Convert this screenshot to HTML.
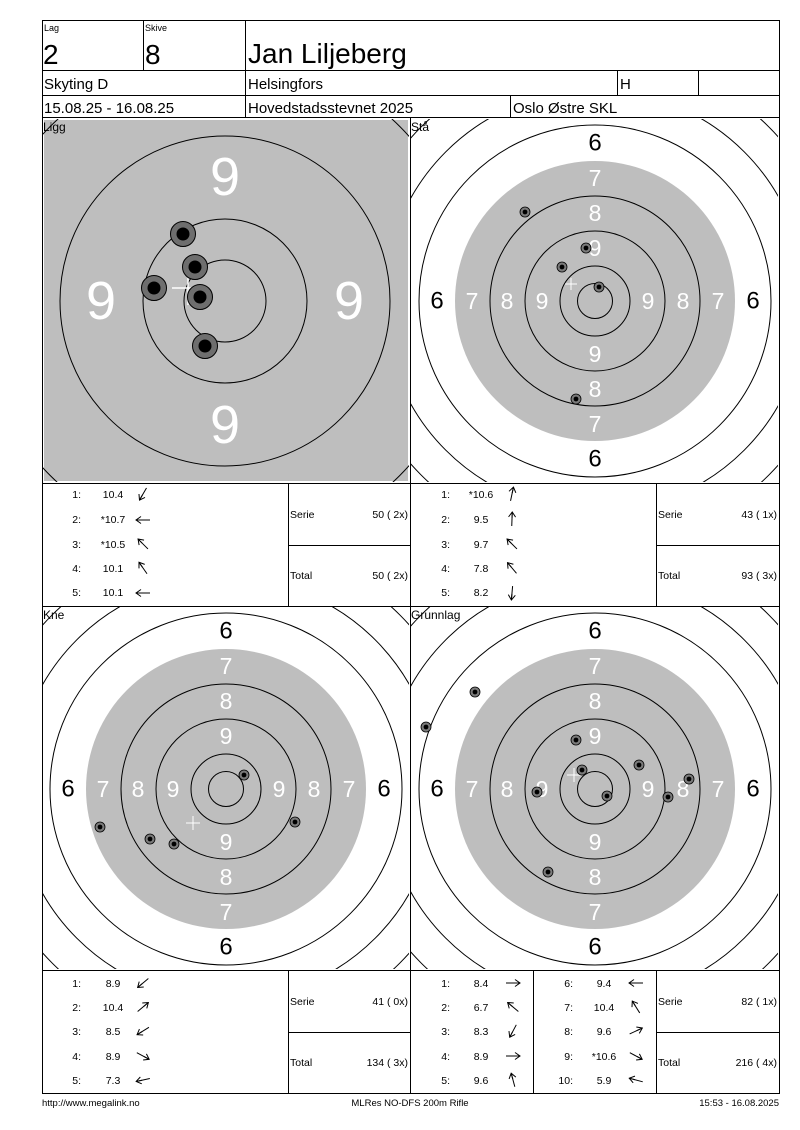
<!DOCTYPE html>
<html><head><meta charset="utf-8"><style>
html,body{margin:0;padding:0;background:#fff;width:800px;height:1130px;overflow:hidden}
svg{display:block;font-family:"Liberation Sans",Arial,sans-serif}
.s{font-size:10.5px}
</style></head><body>
<svg width="800" height="1130" viewBox="0 0 800 1130" xmlns="http://www.w3.org/2000/svg">
<defs>
<clipPath id="c1"><rect x="43" y="119" width="366" height="363"/></clipPath>
<clipPath id="c2"><rect x="411" y="119" width="367" height="363"/></clipPath>
<clipPath id="c3"><rect x="43" y="607" width="366" height="362"/></clipPath>
<clipPath id="c4"><rect x="411" y="607" width="367" height="362"/></clipPath>
<g id="ar" fill="none" stroke="#000" stroke-width="1"><line x1="-7" y1="0" x2="7" y2="0"/><polyline points="2,-3.5 7,0 2,3.5"/><line x1="1" y1="0" x2="6" y2="0"/></g>
<g id="tgt">
<circle r="140" fill="#bebebe"/>
<g fill="none" stroke="#000" stroke-width="1"><circle r="17.5"/><circle r="35"/><circle r="70"/><circle r="105"/><circle r="176"/><circle r="211"/><circle r="246"/></g>
<g font-size="23" text-anchor="middle" dominant-baseline="central" fill="#fff">
<text x="0" y="-53">9</text><text x="0" y="53">9</text><text x="-53" y="0">9</text><text x="53" y="0">9</text>
<text x="0" y="-88">8</text><text x="0" y="88">8</text><text x="-88" y="0">8</text><text x="88" y="0">8</text>
<text x="0" y="-123">7</text><text x="0" y="123">7</text><text x="-123" y="0">7</text><text x="123" y="0">7</text>
</g>
<g font-size="24" text-anchor="middle" dominant-baseline="central" fill="#000">
<text x="0" y="-158">6</text><text x="0" y="158">6</text><text x="-158" y="0">6</text><text x="158" y="0">6</text>
</g>
</g>
<g id="sh"><circle r="5" fill="#7a7a7a" stroke="#000" stroke-width="0.8"/><circle r="2.4" fill="#000"/></g>
<g id="shb"><circle r="12.5" fill="#6e6e6e" stroke="#000" stroke-width="1"/><circle r="6.5" fill="#000"/></g>
</defs>

<!-- header -->
<g fill="none" stroke="#000" stroke-width="1">
<rect x="42.5" y="20.5" width="737" height="97"/>
<line x1="42" y1="70.5" x2="780" y2="70.5"/>
<line x1="42" y1="95.5" x2="780" y2="95.5"/>
<line x1="143.5" y1="20" x2="143.5" y2="70"/>
<line x1="245.5" y1="20" x2="245.5" y2="118"/>
<line x1="617.5" y1="70" x2="617.5" y2="95"/>
<line x1="698.5" y1="70" x2="698.5" y2="95"/>
<line x1="510.5" y1="95" x2="510.5" y2="118"/>
</g>
<text x="44" y="31" font-size="9">Lag</text>
<text x="145" y="31" font-size="9">Skive</text>
<text x="43" y="64" font-size="28">2</text>
<text x="145" y="64" font-size="28">8</text>
<text x="248" y="63" font-size="28">Jan Liljeberg</text>
<text x="44" y="89" font-size="15">Skyting D</text>
<text x="248" y="89" font-size="15">Helsingfors</text>
<text x="620" y="89" font-size="15">H</text>
<text x="44" y="113" font-size="15">15.08.25 - 16.08.25</text>
<text x="248" y="113" font-size="15">Hovedstadsstevnet 2025</text>
<text x="513" y="113" font-size="15">Oslo Østre SKL</text>

<!-- Ligg -->
<g clip-path="url(#c1)">
<rect x="43" y="119" width="366" height="363" fill="#fff"/>
<rect x="44" y="120" width="364" height="361" fill="#bebebe"/>
<g fill="none" stroke="#000" stroke-width="1"><circle cx="225" cy="301" r="41"/><circle cx="225" cy="301" r="82"/><circle cx="225" cy="301" r="165"/><circle cx="225" cy="301" r="247"/></g>
<g font-size="54" text-anchor="middle" dominant-baseline="central" fill="#fff">
<text x="225" y="177">9</text><text x="225" y="425">9</text><text x="101" y="301">9</text><text x="349" y="301">9</text>
</g>
<g stroke="#fff" stroke-width="1.5"><line x1="172" y1="288" x2="206" y2="288"/><line x1="188" y1="271" x2="188" y2="305"/></g>
<use href="#shb" x="183" y="234"/><use href="#shb" x="195" y="267"/><use href="#shb" x="154" y="288"/><use href="#shb" x="200" y="297"/><use href="#shb" x="205" y="346"/>
</g>
<text x="43" y="131" font-size="12">Ligg</text>

<!-- Stå -->
<g clip-path="url(#c2)">
<use href="#tgt" x="595" y="301"/>
<g stroke="#fff" stroke-width="1"><line x1="565" y1="284" x2="577" y2="284"/><line x1="571" y1="278" x2="571" y2="290"/></g>
<use href="#sh" x="525" y="212"/><use href="#sh" x="586" y="248"/><use href="#sh" x="562" y="267"/><use href="#sh" x="599" y="287"/><use href="#sh" x="576" y="399"/>
</g>
<text x="411" y="131" font-size="12">Stå</text>

<!-- Kne -->
<g clip-path="url(#c3)">
<use href="#tgt" x="226" y="789"/>
<g stroke="#fff" stroke-width="1"><line x1="186" y1="823" x2="200" y2="823"/><line x1="193" y1="816" x2="193" y2="830"/></g>
<use href="#sh" x="244" y="775"/><use href="#sh" x="295" y="822"/><use href="#sh" x="174" y="844"/><use href="#sh" x="150" y="839"/><use href="#sh" x="100" y="827"/>
</g>
<text x="43" y="619" font-size="12">Kne</text>

<!-- Grunnlag -->
<g clip-path="url(#c4)">
<use href="#tgt" x="595" y="789"/>
<g stroke="#fff" stroke-width="1"><line x1="567" y1="775" x2="581" y2="775"/><line x1="574" y1="768" x2="574" y2="782"/></g>
<use href="#sh" x="475" y="692"/><use href="#sh" x="426" y="727"/><use href="#sh" x="576" y="740"/><use href="#sh" x="639" y="765"/><use href="#sh" x="689" y="779"/><use href="#sh" x="582" y="770"/><use href="#sh" x="537" y="792"/><use href="#sh" x="607" y="796"/><use href="#sh" x="668" y="797"/><use href="#sh" x="548" y="872"/>
</g>
<text x="411" y="619" font-size="12">Grunnlag</text>

<!-- frame lines -->
<g fill="none" stroke="#000" stroke-width="1">
<rect x="42.5" y="117.5" width="737" height="976"/>
<line x1="410.5" y1="118" x2="410.5" y2="1093"/>
<line x1="42" y1="483.5" x2="780" y2="483.5"/>
<line x1="42" y1="606.5" x2="780" y2="606.5"/>
<line x1="42" y1="970.5" x2="780" y2="970.5"/>
<line x1="288.5" y1="483" x2="288.5" y2="606"/>
<line x1="656.5" y1="483" x2="656.5" y2="606"/>
<line x1="288.5" y1="970" x2="288.5" y2="1093"/>
<line x1="656.5" y1="970" x2="656.5" y2="1093"/>
<line x1="533.5" y1="970" x2="533.5" y2="1093"/>
<line x1="288" y1="545.5" x2="410" y2="545.5"/>
<line x1="656" y1="545.5" x2="780" y2="545.5"/>
<line x1="288" y1="1032.5" x2="410" y2="1032.5"/>
<line x1="656" y1="1032.5" x2="780" y2="1032.5"/>
</g>

<!-- Ligg scores -->
<g class="s">
<g text-anchor="end"><text x="81" y="498">1:</text><text x="81" y="523">2:</text><text x="81" y="548">3:</text><text x="81" y="572">4:</text><text x="81" y="596">5:</text></g>
<g text-anchor="middle"><text x="113" y="498">10.4</text><text x="113" y="523">*10.7</text><text x="113" y="548">*10.5</text><text x="113" y="572">10.1</text><text x="113" y="596">10.1</text></g>
<text x="290" y="518">Serie</text><text x="408" y="518" text-anchor="end">50 ( 2x)</text>
<text x="290" y="579">Total</text><text x="408" y="579" text-anchor="end">50 ( 2x)</text>
</g>
<use href="#ar" transform="translate(143,494) rotate(120)"/>
<use href="#ar" transform="translate(143,520) rotate(180)"/>
<use href="#ar" transform="translate(143,544) rotate(225)"/>
<use href="#ar" transform="translate(143,568) rotate(235)"/>
<use href="#ar" transform="translate(143,593) rotate(180)"/>

<!-- Stå scores -->
<g class="s">
<g text-anchor="end"><text x="450" y="498">1:</text><text x="450" y="523">2:</text><text x="450" y="548">3:</text><text x="450" y="572">4:</text><text x="450" y="596">5:</text></g>
<g text-anchor="middle"><text x="481" y="498">*10.6</text><text x="481" y="523">9.5</text><text x="481" y="548">9.7</text><text x="481" y="572">7.8</text><text x="481" y="596">8.2</text></g>
<text x="658" y="518">Serie</text><text x="777" y="518" text-anchor="end">43 ( 1x)</text>
<text x="658" y="579">Total</text><text x="777" y="579" text-anchor="end">93 ( 3x)</text>
</g>
<use href="#ar" transform="translate(512,494) rotate(-78)"/>
<use href="#ar" transform="translate(512,519) rotate(-88)"/>
<use href="#ar" transform="translate(512,544) rotate(225)"/>
<use href="#ar" transform="translate(512,568) rotate(230)"/>
<use href="#ar" transform="translate(512,593) rotate(95)"/>

<!-- Kne scores -->
<g class="s">
<g text-anchor="end"><text x="81" y="987">1:</text><text x="81" y="1011">2:</text><text x="81" y="1035">3:</text><text x="81" y="1060">4:</text><text x="81" y="1084">5:</text></g>
<g text-anchor="middle"><text x="113" y="987">8.9</text><text x="113" y="1011">10.4</text><text x="113" y="1035">8.5</text><text x="113" y="1060">8.9</text><text x="113" y="1084">7.3</text></g>
<text x="290" y="1005">Serie</text><text x="408" y="1005" text-anchor="end">41 ( 0x)</text>
<text x="290" y="1066">Total</text><text x="408" y="1066" text-anchor="end">134 ( 3x)</text>
</g>
<use href="#ar" transform="translate(143,983) rotate(140)"/>
<use href="#ar" transform="translate(143,1007) rotate(-40)"/>
<use href="#ar" transform="translate(143,1031) rotate(148)"/>
<use href="#ar" transform="translate(143,1056) rotate(28)"/>
<use href="#ar" transform="translate(143,1080) rotate(168)"/>

<!-- Grunnlag scores -->
<g class="s">
<g text-anchor="end"><text x="450" y="987">1:</text><text x="450" y="1011">2:</text><text x="450" y="1035">3:</text><text x="450" y="1060">4:</text><text x="450" y="1084">5:</text>
<text x="573" y="987">6:</text><text x="573" y="1011">7:</text><text x="573" y="1035">8:</text><text x="573" y="1060">9:</text><text x="573" y="1084">10:</text></g>
<g text-anchor="middle"><text x="481" y="987">8.4</text><text x="481" y="1011">6.7</text><text x="481" y="1035">8.3</text><text x="481" y="1060">8.9</text><text x="481" y="1084">9.6</text>
<text x="604" y="987">9.4</text><text x="604" y="1011">10.4</text><text x="604" y="1035">9.6</text><text x="604" y="1060">*10.6</text><text x="604" y="1084">5.9</text></g>
<text x="658" y="1005">Serie</text><text x="777" y="1005" text-anchor="end">82 ( 1x)</text>
<text x="658" y="1066">Total</text><text x="777" y="1066" text-anchor="end">216 ( 4x)</text>
</g>
<use href="#ar" transform="translate(513,983) rotate(0)"/>
<use href="#ar" transform="translate(513,1007) rotate(220)"/>
<use href="#ar" transform="translate(513,1031) rotate(118)"/>
<use href="#ar" transform="translate(513,1056) rotate(0)"/>
<use href="#ar" transform="translate(513,1080) rotate(255)"/>
<use href="#ar" transform="translate(636,983) rotate(180)"/>
<use href="#ar" transform="translate(636,1007) rotate(238)"/>
<use href="#ar" transform="translate(636,1031) rotate(-25)"/>
<use href="#ar" transform="translate(636,1056) rotate(28)"/>
<use href="#ar" transform="translate(636,1080) rotate(195)"/>

<!-- footer -->
<g font-size="9.5">
<text x="42" y="1106">http://www.megalink.no</text>
<text x="410" y="1106" text-anchor="middle">MLRes NO-DFS 200m Rifle</text>
<text x="779" y="1106" text-anchor="end">15:53 - 16.08.2025</text>
</g>
</svg>
</body></html>
